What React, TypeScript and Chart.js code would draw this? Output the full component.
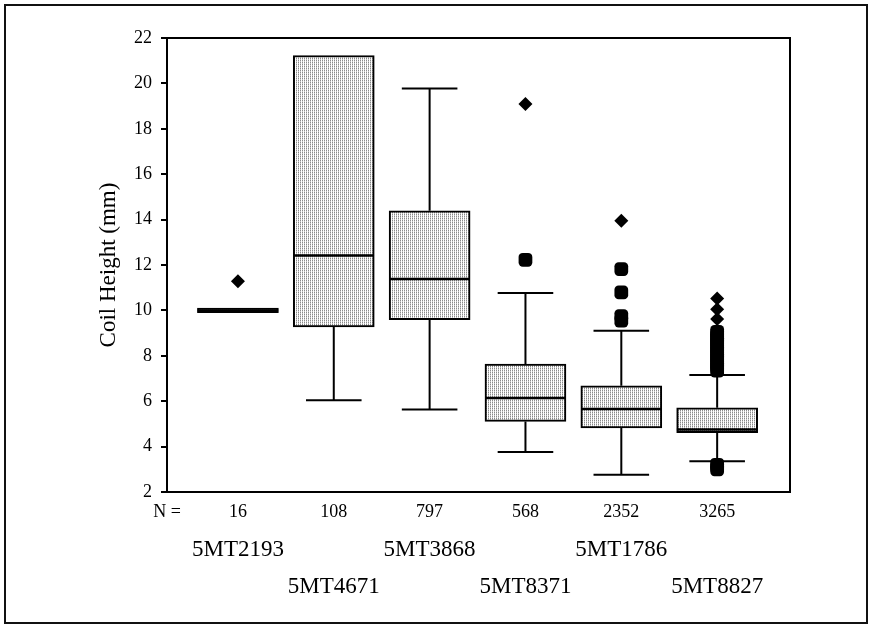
import React, { useEffect, useRef } from 'react';
import { Chart, registerables } from 'chart.js';

Chart.register(...registerables);

// ---- data ----
const categories = ['5MT2193', '5MT4671', '5MT3868', '5MT8371', '5MT1786', '5MT8827'];
const counts = ['16', '108', '797', '568', '2352', '3265'];
const q1 = [9.9, 9.27, 9.59, 5.11, 4.82, 4.61];
const medians = [10.0, 12.42, 11.38, 6.14, 5.66, 4.75];
const q3 = [10.1, 21.23, 14.39, 7.64, 6.68, 5.71];
const whiskerLow: (number | null)[] = [null, 6.04, 5.63, 3.76, 2.76, 3.36];
const whiskerHigh: (number | null)[] = [null, null, 19.77, 10.77, 9.1, 7.15];
const extremes: number[][] = [[11.28], [], [], [19.09], [13.95], [10.52, 10.05, 9.62]];
const outliers: number[][] = [
  [],
  [],
  [],
  [12.23],
  [11.82, 10.79, 9.75, 9.55],
  [
    9.05, 8.95, 8.85, 8.75, 8.65, 8.55, 8.45, 8.35, 8.25, 8.15, 8.05, 7.95, 7.85, 7.75, 7.65, 7.55,
    7.45, 7.35, 3.2, 3.1, 3.0,
  ],
];
const yAxisTitle = 'Coil Height (mm)';
const nLabel = 'N =';

// axis / style settings
const X_MIN = 0.26;
const X_MAX = 6.76;
const Y_MIN = 2;
const Y_MAX = 22;
const Y_STEP = 2;
const BOX_HALF = 0.42;
const CAP_HALF = 0.29;
const FONT = "'Liberation Serif', 'Times New Roman', Times, serif";

export default function App() {
  const ref = useRef<HTMLCanvasElement | null>(null);

  useEffect(() => {
    const canvas = ref.current;
    if (!canvas) return;
    const ctx = canvas.getContext('2d');
    if (!ctx) return;

    // stippled grey fill like the printed boxes
    const pc = document.createElement('canvas');
    pc.width = 2;
    pc.height = 2;
    const pctx = pc.getContext('2d')!;
    pctx.fillStyle = '#ffffff';
    pctx.fillRect(0, 0, 2, 2);
    pctx.fillStyle = '#8a8a8a';
    pctx.fillRect(0, 0, 1, 1);
    pctx.fillStyle = '#c8c8c8';
    pctx.fillRect(0, 1, 1, 1);
    const pattern = ctx.createPattern(pc, 'repeat') || '#d8d8d8';

    const pos = categories.map((_, i) => i + 1);

    const boxData = pos.map((x, i) => ({ x, y: [q1[i], q3[i]] }));

    const medianData: any[] = [];
    pos.forEach((x, i) => {
      medianData.push({ x: x - BOX_HALF, y: medians[i] });
      medianData.push({ x: x + BOX_HALF, y: medians[i] });
      medianData.push({ x, y: null });
    });

    const whiskerData: any[] = [];
    pos.forEach((x, i) => {
      const lo = whiskerLow[i];
      const hi = whiskerHigh[i];
      if (lo !== null) {
        whiskerData.push({ x, y: q1[i] }, { x, y: lo }, { x, y: null });
        whiskerData.push({ x: x - CAP_HALF, y: lo }, { x: x + CAP_HALF, y: lo }, { x, y: null });
      }
      if (hi !== null) {
        whiskerData.push({ x, y: q3[i] }, { x, y: hi }, { x, y: null });
        whiskerData.push({ x: x - CAP_HALF, y: hi }, { x: x + CAP_HALF, y: hi }, { x, y: null });
      }
    });

    const extremeData = pos.flatMap((x, i) => extremes[i].map((y) => ({ x, y })));
    const outlierData = pos.flatMap((x, i) => outliers[i].map((y) => ({ x, y })));

    const plotFrame = {
      id: 'plotFrame',
      afterDatasetsDraw(chart: any) {
        const { ctx: c, chartArea: a } = chart;
        c.save();
        c.strokeStyle = '#000';
        c.lineWidth = 2;
        c.strokeRect(a.left, a.top, a.right - a.left, a.bottom - a.top);
        c.restore();
      },
    };

    const chart = new Chart(canvas, {
      type: 'bar',
      data: {
        datasets: [
          {
            type: 'line',
            label: 'extremes',
            data: extremeData,
            showLine: false,
            pointStyle: 'rectRot',
            pointRadius: 7,
            pointHoverRadius: 7,
            pointBackgroundColor: '#000',
            pointBorderColor: '#000',
            pointBorderWidth: 0,
            xAxisID: 'x',
            yAxisID: 'y',
            order: 0,
          } as any,
          {
            type: 'line',
            label: 'outliers',
            data: outlierData,
            showLine: false,
            pointStyle: 'rectRounded',
            pointRadius: 8,
            pointHoverRadius: 8,
            pointBackgroundColor: '#000',
            pointBorderColor: '#000',
            pointBorderWidth: 0,
            xAxisID: 'x',
            yAxisID: 'y',
            order: 0,
          } as any,
          {
            type: 'line',
            label: 'median',
            data: medianData,
            borderColor: '#000',
            borderWidth: 2.5,
            pointRadius: 0,
            pointHoverRadius: 0,
            spanGaps: false,
            fill: false,
            xAxisID: 'x',
            yAxisID: 'y',
            order: 1,
          } as any,
          {
            type: 'line',
            label: 'whiskers',
            data: whiskerData,
            borderColor: '#000',
            borderWidth: 2,
            pointRadius: 0,
            pointHoverRadius: 0,
            spanGaps: false,
            fill: false,
            xAxisID: 'x',
            yAxisID: 'y',
            order: 2,
          } as any,
          {
            type: 'bar',
            label: 'IQR',
            data: boxData,
            backgroundColor: pattern,
            borderColor: '#000',
            borderWidth: 2,
            borderSkipped: false,
            barThickness: 81,
            xAxisID: 'x',
            yAxisID: 'y',
            order: 3,
          } as any,
        ],
      },
      options: {
        responsive: false,
        animation: false,
        events: [],
        layout: { padding: { left: 0, top: 38, right: 80, bottom: 6 } },
        plugins: {
          legend: { display: false },
          tooltip: { enabled: false },
        },
        scales: {
          x: {
            type: 'linear',
            position: 'bottom',
            min: X_MIN,
            max: X_MAX,
            offset: false,
            weight: 0,
            grid: { display: false, drawTicks: false },
            border: { display: false },
            afterBuildTicks: (s: any) => {
              s.ticks = [{ value: X_MIN }, ...pos.map((v) => ({ value: v }))];
            },
            ticks: {
              autoSkip: false,
              maxRotation: 0,
              minRotation: 0,
              padding: 9,
              color: '#000',
              font: { family: FONT, size: 18 },
              callback: (_v: any, index: number) => (index === 0 ? nLabel : counts[index - 1]),
            },
            afterFit: (s: any) => {
              s.height = 30;
            },
          } as any,
          x2: {
            type: 'linear',
            axis: 'x',
            position: 'bottom',
            min: X_MIN,
            max: X_MAX,
            offset: false,
            weight: 1,
            grid: { display: false, drawTicks: false },
            border: { display: false },
            afterBuildTicks: (s: any) => {
              s.ticks = pos.map((v) => ({ value: v }));
            },
            ticks: {
              autoSkip: false,
              maxRotation: 0,
              minRotation: 0,
              padding: 9.6,
              color: '#000',
              font: { family: FONT, size: 23, lineHeight: 1.6 },
              callback: (_v: any, index: number) =>
                index % 2 === 0 ? [categories[index], ''] : ['', categories[index]],
            },
            afterFit: (s: any) => {
              s.height = 100;
            },
          } as any,
          y: {
            type: 'linear',
            position: 'left',
            min: Y_MIN,
            max: Y_MAX,
            ticks: {
              stepSize: Y_STEP,
              padding: 9,
              color: '#000',
              font: { family: FONT, size: 18 },
            },
            grid: {
              display: true,
              drawOnChartArea: false,
              drawTicks: true,
              tickLength: 6,
              color: '#000',
              lineWidth: 2,
            },
            border: { display: false },
            title: {
              display: true,
              text: yAxisTitle,
              color: '#000',
              font: { family: FONT, size: 23 },
              padding: { top: 95, bottom: 0 },
            },
            afterFit: (s: any) => {
              s.width = 167;
            },
          } as any,
        },
      } as any,
      plugins: [plotFrame],
    });

    return () => chart.destroy();
  }, []);

  return (
    <div style={{ position: 'fixed', left: 0, top: 0, width: 870, height: 628, background: '#fff' }}>
      <canvas
        ref={ref}
        width={870}
        height={628}
        style={{ position: 'absolute', left: 0, top: 0, width: 870, height: 628 }}
      />
      <div
        style={{
          position: 'absolute',
          left: 4,
          top: 4,
          width: 864,
          height: 620,
          border: '2px solid #111',
          boxSizing: 'border-box',
          pointerEvents: 'none',
        }}
      />
    </div>
  );
}
